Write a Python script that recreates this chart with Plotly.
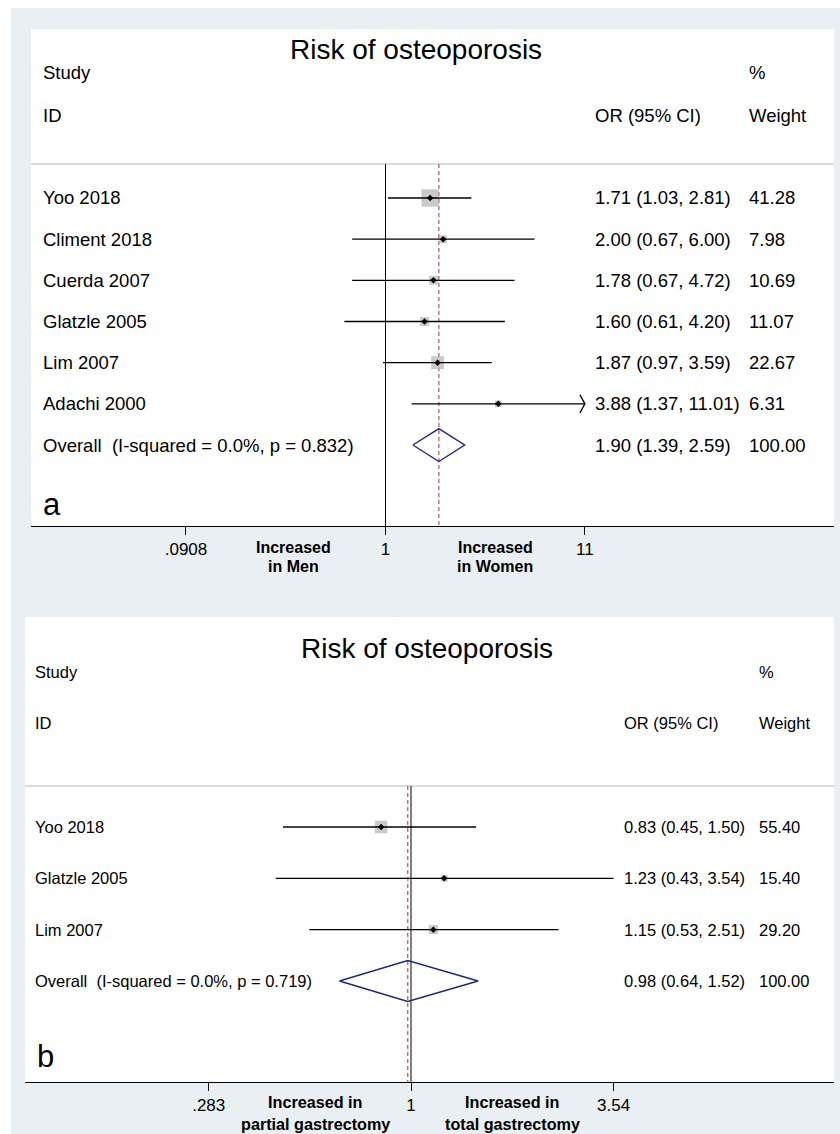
import math
import plotly.graph_objects as go

W, H = 840, 1134

# ---------------- data ----------------
title_text = "Risk of osteoporosis"

a_studies = ["Yoo 2018", "Climent 2018", "Cuerda 2007", "Glatzle 2005", "Lim 2007", "Adachi 2000"]
a_or = [1.71, 2.00, 1.78, 1.60, 1.87, 3.88]
a_lo = [1.03, 0.67, 0.67, 0.61, 0.97, 1.37]
a_hi = [2.81, 6.00, 4.72, 4.20, 3.59, 11.01]
a_weight = [41.28, 7.98, 10.69, 11.07, 22.67, 6.31]
a_overall_label = "Overall  (I-squared = 0.0%, p = 0.832)"
a_overall = [1.90, 1.39, 2.59]
a_ticks = [0.0908, 1, 11]
a_ticktext = [".0908", "1", "11"]
a_favours = [["Increased", "in Men"], ["Increased", "in Women"]]

b_studies = ["Yoo 2018", "Glatzle 2005", "Lim 2007"]
b_or = [0.83, 1.23, 1.15]
b_lo = [0.45, 0.43, 0.53]
b_hi = [1.50, 3.54, 2.51]
b_weight = [55.40, 15.40, 29.20]
b_overall_label = "Overall  (I-squared = 0.0%, p = 0.719)"
b_overall = [0.98, 0.64, 1.52]
b_ticks = [0.283, 1, 3.54]
b_ticktext = [".283", "1", "3.54"]
b_favours = [["Increased in", "partial gastrectomy"], ["Increased in", "total gastrectomy"]]

# ---------------- styling / layout (pixels) ----------------
GRAY_BG = "#e9eff2"
SEP_COL = "#cfcfcf"
BOX_COL = "#b3b3b3"
DIAM_COL = "#1c2580"
DASH_COL = "#b8505f"
FONT = "Liberation Sans, Arial, Helvetica, sans-serif"
AXFONT = "Liberation Sans, Arial, Helvetica, sans-serif"

panels = [
    dict(key="a", xa="x", ya="y", studies=a_studies, est=a_or, lo=a_lo, hi=a_hi, w=a_weight,
         ov=a_overall, ovlabel=a_overall_label, ticks=a_ticks, ticktext=a_ticktext, fav=a_favours,
         gray=(11, 840, 8, 590), left=31, right=834, top=29, bottom=526,
         x_one=385.5, ppd=191.5, row0=198, step=41.17, sep=164,
         body=18.5, title_x=416, title_y=50, hdr=(73, 115), lab_x=41, or_x=593, w_x=747,
         letter_xy=(41, 505), fav_x=(293, 495), fav_y=(547, 566), tickfont=17, favfont=16,
         box_k=2.7),
    dict(key="b", xa="x2", ya="y2", studies=b_studies, est=b_or, lo=b_lo, hi=b_hi, w=b_weight,
         ov=b_overall, ovlabel=b_overall_label, ticks=b_ticks, ticktext=b_ticktext, fav=b_favours,
         gray=(11, 840, 590, 1134), left=25, right=834, top=617, bottom=1082,
         x_one=411, ppd=369, row0=827, step=51.33, sep=786,
         body=16.5, title_x=427, title_y=648, hdr=(672, 723), lab_x=33, or_x=622, w_x=757,
         letter_xy=(35, 1056), fav_x=(315, 512), fav_y=(1102, 1124), tickfont=17, favfont=16.2,
         box_k=1.68),
]

fig = go.Figure()
shapes = []
annotations = []
layout_axes = {}


def px(x):
    return x / W


def py(y):
    return 1 - y / H


for i, P in enumerate(panels):
    xa, ya = P["xa"], P["ya"]
    xname = "xaxis" if i == 0 else "xaxis2"
    yname = "yaxis" if i == 0 else "yaxis2"
    n = len(P["studies"])
    rows = list(range(n))
    ov_row = n
    xmin, xmax = P["ticks"][0], P["ticks"][-1]

    # backgrounds
    g = P["gray"]
    shapes.append(dict(type="rect", xref="paper", yref="paper", x0=px(g[0]), x1=px(g[1]),
                       y0=py(g[3]), y1=py(g[2]), fillcolor=GRAY_BG, line=dict(width=0), layer="below"))
    shapes.append(dict(type="rect", xref="paper", yref="paper", x0=px(P["left"]), x1=px(P["right"]),
                       y0=py(P["bottom"]), y1=py(P["top"]), fillcolor="white", line=dict(width=0), layer="below"))
    # header separator
    shapes.append(dict(type="line", xref="paper", yref="paper", x0=px(P["left"]), x1=px(P["right"]),
                       y0=py(P["sep"]), y1=py(P["sep"]), line=dict(color=SEP_COL, width=1.5), layer="below"))

    sep_r = (P["sep"] - P["row0"]) / P["step"]
    bot_r = (P["bottom"] - P["row0"]) / P["step"]
    top_r = (P["top"] - P["row0"]) / P["step"]

    # null line and overall dashed line
    fig.add_trace(go.Scatter(x=[1, 1], y=[sep_r, bot_r], mode="lines", xaxis=xa, yaxis=ya,
                             line=dict(color="black", width=1), hoverinfo="skip", showlegend=False))
    fig.add_trace(go.Scatter(x=[P["ov"][0], P["ov"][0]], y=[sep_r, bot_r], mode="lines", xaxis=xa, yaxis=ya,
                             line=dict(color=DASH_COL, width=1.2, dash="4px,3px"), hoverinfo="skip",
                             showlegend=False))

    # CI lines (clipped to axis ticks)
    cx, cy = [], []
    arrows_x, arrows_y = [], []
    for r, lo, hi in zip(rows, P["lo"], P["hi"]):
        cx += [max(lo, xmin), min(hi, xmax), None]
        cy += [r, r, None]
        if hi > xmax:
            back = xmax * 10 ** (-5 / P["ppd"])
            dy = 9 / P["step"]
            arrows_x += [back, xmax, back, None]
            arrows_y += [r - dy, r, r + dy, None]
    # weight boxes
    fig.add_trace(go.Scatter(x=P["est"], y=rows, mode="markers", xaxis=xa, yaxis=ya,
                             marker=dict(symbol="square", color=BOX_COL,
                                         size=[P["box_k"] * math.sqrt(w) for w in P["w"]],
                                         line=dict(width=0)),
                             hoverinfo="skip", showlegend=False))
    fig.add_trace(go.Scatter(x=cx, y=cy, mode="lines", xaxis=xa, yaxis=ya,
                             line=dict(color="black", width=1.3), hoverinfo="skip", showlegend=False))
    if arrows_x:
        fig.add_trace(go.Scatter(x=arrows_x, y=arrows_y, mode="lines", xaxis=xa, yaxis=ya,
                                 line=dict(color="black", width=1.3), hoverinfo="skip", showlegend=False))
    fig.add_trace(go.Scatter(x=P["est"], y=rows, mode="markers", xaxis=xa, yaxis=ya,
                             marker=dict(symbol="diamond", color="black", size=5),
                             hoverinfo="skip", showlegend=False))

    # overall diamond
    est, lo, hi = P["ov"]
    h = 0.4
    fig.add_trace(go.Scatter(x=[lo, est, hi, est, lo], y=[ov_row, ov_row - h, ov_row, ov_row + h, ov_row],
                             mode="lines", xaxis=xa, yaxis=ya, line=dict(color=DIAM_COL, width=1.4),
                             hoverinfo="skip", showlegend=False))

    # axes
    layout_axes[xname] = dict(
        type="log", domain=[px(P["left"]), px(P["right"])],
        range=[(P["left"] - P["x_one"]) / P["ppd"], (P["right"] - P["x_one"]) / P["ppd"]],
        anchor=ya,
        showgrid=False, zeroline=False, showline=True, linecolor="black", linewidth=1,
        ticks="outside", ticklen=8, tickwidth=1, tickcolor="black",
        tickvals=P["ticks"], ticktext=P["ticktext"],
        tickfont=dict(family=AXFONT, size=P["tickfont"], color="black"),
        fixedrange=True,
    )
    layout_axes[yname] = dict(
        domain=[py(P["bottom"]), py(P["top"])], range=[bot_r, top_r],
        anchor=xa, visible=False, showgrid=False, zeroline=False, fixedrange=True,
    )

    # texts
    fs = P["body"]
    annotations.append(dict(text=title_text, xref="paper", yref="paper", x=px(P["title_x"]), y=py(P["title_y"]),
                            xanchor="center", yanchor="middle", showarrow=False,
                            font=dict(family=FONT, size=28, color="black")))
    for txt, xx, yy in [("Study", P["lab_x"], P["hdr"][0]), ("ID", P["lab_x"], P["hdr"][1]),
                        ("%", P["w_x"], P["hdr"][0]), ("OR (95% CI)", P["or_x"], P["hdr"][1]),
                        ("Weight", P["w_x"], P["hdr"][1])]:
        annotations.append(dict(text=txt, xref="paper", yref="paper", x=px(xx), y=py(yy),
                                xanchor="left", yanchor="middle", showarrow=False,
                                font=dict(family=FONT, size=fs, color="black")))
    labels = P["studies"] + [P["ovlabel"]]
    ors = list(zip(P["est"], P["lo"], P["hi"])) + [tuple(P["ov"])]
    wts = ["%.2f" % w for w in P["w"]] + ["%.2f" % sum(P["w"])]
    for r, (lab, (e, l, u), wt) in enumerate(zip(labels, ors, wts)):
        annotations.append(dict(text=lab, xref="paper", yref=ya, x=px(P["lab_x"]), y=r,
                                xanchor="left", yanchor="middle", showarrow=False,
                                font=dict(family=FONT, size=fs, color="black")))
        annotations.append(dict(text="%.2f (%.2f, %.2f)" % (e, l, u), xref="paper", yref=ya,
                                x=px(P["or_x"]), y=r, xanchor="left", yanchor="middle", showarrow=False,
                                font=dict(family=FONT, size=fs, color="black")))
        annotations.append(dict(text=wt, xref="paper", yref=ya, x=px(P["w_x"]), y=r,
                                xanchor="left", yanchor="middle", showarrow=False,
                                font=dict(family=FONT, size=fs, color="black")))
    annotations.append(dict(text=P["key"], xref="paper", yref="paper", x=px(P["letter_xy"][0]),
                            y=py(P["letter_xy"][1]), xanchor="left", yanchor="middle", showarrow=False,
                            font=dict(family=FONT, size=31, color="black")))
    for (l1, l2), fx in zip(P["fav"], P["fav_x"]):
        for txt, fy in [(l1, P["fav_y"][0]), (l2, P["fav_y"][1])]:
            annotations.append(dict(text=txt, xref="paper", yref="paper", x=px(fx), y=py(fy),
                                    xanchor="center", yanchor="middle", showarrow=False,
                                    font=dict(family=AXFONT, size=P["favfont"], color="black",
                                              weight="bold")))

fig.update_layout(
    width=W, height=H, margin=dict(l=0, r=0, t=0, b=0),
    paper_bgcolor="white", plot_bgcolor="rgba(0,0,0,0)",
    shapes=shapes, annotations=annotations, showlegend=False,
    **layout_axes,
)

fig.write_html("out.html", config={"displayModeBar": False, "staticPlot": True},
               post_script="document.body.style.margin='0px';document.body.style.overflow='hidden';")
